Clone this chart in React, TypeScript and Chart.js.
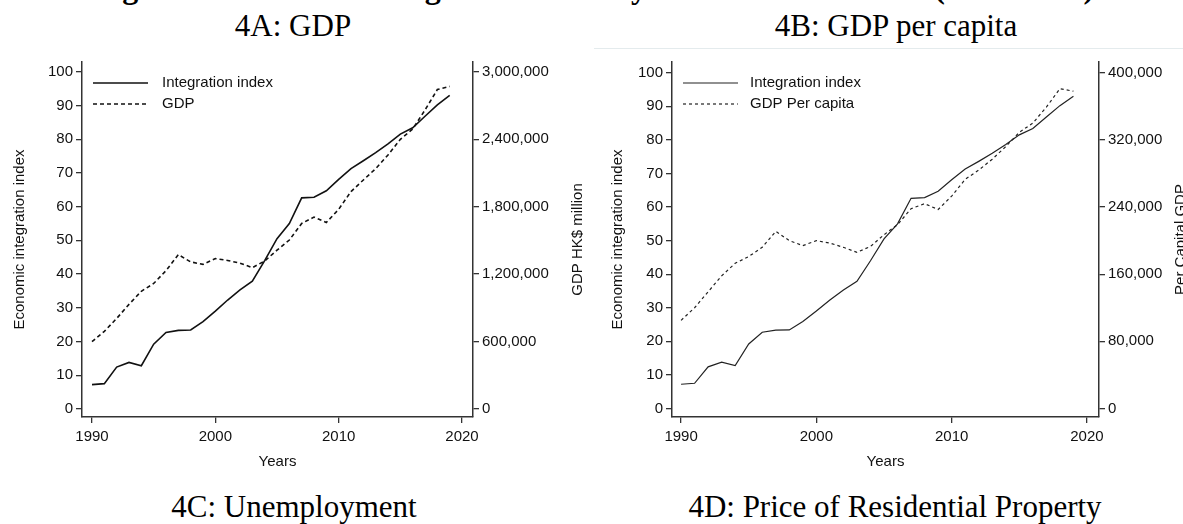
import React, { useEffect, useRef } from "react";
import { Chart, registerables } from "chart.js";

Chart.register(...registerables);

// ---- data -------------------------------------------------------------
const years = [
  1990, 1991, 1992, 1993, 1994, 1995, 1996, 1997, 1998, 1999,
  2000, 2001, 2002, 2003, 2004, 2005, 2006, 2007, 2008, 2009,
  2010, 2011, 2012, 2013, 2014, 2015, 2016, 2017, 2018, 2019,
];

// Economic integration index (left axis, both panels)
const integrationIndex = [
  7.2, 7.5, 12.4, 13.8, 12.8, 19.2, 22.7, 23.3, 23.4, 25.9,
  29.0, 32.3, 35.3, 37.9, 44.0, 50.5, 55.0, 62.6, 62.8, 64.7,
  68.1, 71.3, 73.6, 76.0, 78.6, 81.5, 83.4, 86.8, 90.2, 93.0,
];

// GDP, HK$ million (right axis, panel 4A)
const gdpMillion = [
  599000, 690000, 805000, 930000, 1047000, 1116000, 1230000, 1373000, 1308000, 1286000,
  1338000, 1321000, 1297000, 1257000, 1316000, 1412000, 1503000, 1650000, 1707000, 1659000,
  1776000, 1934000, 2037000, 2138000, 2260000, 2399000, 2490000, 2660000, 2842000, 2870000,
];

// GDP per capita, HK$ (right axis, panel 4B)
const gdpPerCapita = [
  105000, 120000, 139000, 158000, 173000, 181000, 192000, 211000, 200000, 194000,
  200000, 197000, 192000, 186000, 193000, 207000, 219000, 238000, 244000, 237000,
  253000, 273000, 284000, 297000, 312000, 329000, 340000, 359000, 381000, 378000,
];

const yearTicks = [1990, 2000, 2010, 2020];
const indexTicks = [0, 10, 20, 30, 40, 50, 60, 70, 80, 90, 100];
const gdpTicks = [0, 600000, 1200000, 1800000, 2400000, 3000000];
const perCapitaTicks = [0, 80000, 160000, 240000, 320000, 400000];

// ---- styling ----------------------------------------------------------
const SANS = '"Liberation Sans", Arial, Helvetica, sans-serif';
const SERIF = '"Liberation Serif", "Times New Roman", Times, serif';
const INK = "#111";
const AXIS = "#333";

// Legend drawn inside the plot area plus a right-hand axis title that
// reads bottom-to-top.
const panelDecor = {
  id: "panelDecor",
  afterDraw(chart: any, _args: any, opts: any) {
    const { ctx, chartArea } = chart;
    ctx.save();
    ctx.font = `15px ${SANS}`;
    ctx.fillStyle = INK;
    ctx.textBaseline = "middle";
    chart.data.datasets.forEach((ds: any, i: number) => {
      const y = chartArea.top + opts.legendTop + i * opts.legendRow;
      const x0 = chartArea.left + opts.sampleLeft;
      ctx.beginPath();
      ctx.setLineDash(ds.borderDash || []);
      ctx.lineWidth = ds.borderWidth;
      ctx.strokeStyle = ds.borderColor;
      ctx.moveTo(x0, y);
      ctx.lineTo(x0 + opts.sampleWidth, y);
      ctx.stroke();
      ctx.setLineDash([]);
      ctx.textAlign = "left";
      ctx.fillText(ds.label, chartArea.left + opts.textLeft, y);
    });
    ctx.translate(opts.rightTitleX, (chartArea.top + chartArea.bottom) / 2);
    ctx.rotate(-Math.PI / 2);
    ctx.textAlign = "center";
    ctx.fillText(opts.rightTitle, 0, 0);
    ctx.restore();
  },
};

type PanelSpec = {
  seriesLabel: string;
  values: number[];
  rightTicks: number[];
  rightFactor: number;
  yMin: number;
  yMax: number;
  xMin: number;
  xMax: number;
  padTop: number;
  leftWidth: number;
  rightWidth: number;
  xHeight: number;
  leftTitlePad: number;
  rightTitle: string;
  rightTitleX: number;
  lineWidth: number;
  lineColor: string;
  dash: number[];
  textLeft: number;
};

const tickFont = { family: SANS, size: 15 };

function buildConfig(p: PanelSpec): any {
  const pts = (vals: number[]) => years.map((x, i) => ({ x, y: vals[i] }));
  const tickGrid = {
    display: true,
    drawOnChartArea: false,
    drawTicks: true,
    tickLength: 6,
    color: AXIS,
    lineWidth: 1.3,
  };
  const border = { display: true, color: AXIS, width: 1.5 };
  return {
    type: "line",
    data: {
      datasets: [
        {
          label: "Integration index",
          data: pts(integrationIndex),
          yAxisID: "y",
          borderColor: p.lineColor,
          borderWidth: p.lineWidth,
          pointRadius: 0,
          tension: 0,
          fill: false,
        },
        {
          label: p.seriesLabel,
          data: pts(p.values),
          yAxisID: "y1",
          borderColor: p.lineColor,
          borderWidth: p.lineWidth,
          borderDash: p.dash,
          pointRadius: 0,
          tension: 0,
          fill: false,
        },
      ],
    },
    plugins: [panelDecor],
    options: {
      animation: false,
      responsive: false,
      maintainAspectRatio: false,
      events: [],
      layout: { padding: { top: p.padTop, left: 0, right: 0, bottom: 0 } },
      plugins: {
        legend: { display: false },
        tooltip: { enabled: false },
        panelDecor: {
          legendTop: 21,
          legendRow: 21,
          sampleLeft: 11,
          sampleWidth: 55,
          textLeft: p.textLeft,
          rightTitle: p.rightTitle,
          rightTitleX: p.rightTitleX,
        },
      },
      scales: {
        x: {
          type: "linear",
          position: "bottom",
          min: p.xMin,
          max: p.xMax,
          afterBuildTicks: (s: any) => {
            s.ticks = yearTicks.map((v) => ({ value: v }));
          },
          afterFit: (s: any) => {
            s.height = p.xHeight;
          },
          grid: tickGrid,
          border,
          ticks: {
            font: tickFont,
            color: INK,
            padding: 5,
            maxRotation: 0,
            autoSkip: false,
            callback: (v: any) => String(v),
          },
          title: {
            display: true,
            text: "Years",
            font: tickFont,
            color: INK,
            padding: { top: 0, bottom: 9 },
          },
        },
        y: {
          type: "linear",
          position: "left",
          min: p.yMin,
          max: p.yMax,
          afterBuildTicks: (s: any) => {
            s.ticks = indexTicks.map((v) => ({ value: v }));
          },
          afterFit: (s: any) => {
            s.width = p.leftWidth;
          },
          grid: tickGrid,
          border,
          ticks: {
            font: tickFont,
            color: INK,
            padding: 3,
            autoSkip: false,
            callback: (v: any) => String(v),
          },
          title: {
            display: true,
            text: "Economic integration index",
            font: tickFont,
            color: INK,
            padding: { top: p.leftTitlePad, bottom: 0 },
          },
        },
        y1: {
          type: "linear",
          position: "right",
          min: p.yMin * p.rightFactor,
          max: p.yMax * p.rightFactor,
          afterBuildTicks: (s: any) => {
            s.ticks = p.rightTicks.map((v) => ({ value: v }));
          },
          afterFit: (s: any) => {
            s.width = p.rightWidth;
          },
          grid: tickGrid,
          border,
          ticks: {
            font: tickFont,
            color: INK,
            padding: 3,
            autoSkip: false,
            callback: (v: any) => Number(v).toLocaleString("en-US"),
          },
        },
      },
    },
  };
}

const panelA: PanelSpec = {
  seriesLabel: "GDP",
  values: gdpMillion,
  rightTicks: gdpTicks,
  rightFactor: 30000,
  yMin: -2.4,
  yMax: 102.9,
  xMin: 1989.19,
  xMax: 2020.89,
  padTop: 9,
  leftWidth: 82,
  rightWidth: 117,
  xHeight: 63,
  leftTitlePad: 11,
  rightTitle: "GDP HK$ million",
  rightTitleX: 578,
  lineWidth: 1.6,
  lineColor: "#111",
  dash: [4, 3],
  textLeft: 80,
};

const panelB: PanelSpec = {
  seriesLabel: "GDP Per capita",
  values: gdpPerCapita,
  rightTicks: perCapitaTicks,
  rightFactor: 4000,
  yMin: -2.55,
  yMax: 103.2,
  xMin: 1989.33,
  xMax: 2020.89,
  padTop: 10,
  leftWidth: 82,
  rightWidth: 111,
  xHeight: 63,
  leftTitlePad: 19,
  rightTitle: "Per Capital GDP",
  rightTitleX: 590.5,
  lineWidth: 1.2,
  lineColor: "#222",
  dash: [3, 3],
  textLeft: 78,
};

function Heading(props: {
  text: string;
  center: number;
  baseline: number;
  size?: number;
  bold?: boolean;
}) {
  const size = props.size ?? 31;
  const baseOffset = size * 0.891 - (size * 1.107 - size) / 2;
  return (
    <div
      style={{
        position: "absolute",
        left: props.center - 700,
        width: 1400,
        top: props.baseline - baseOffset,
        textAlign: "center",
        fontFamily: SERIF,
        fontSize: size,
        lineHeight: `${size}px`,
        fontWeight: props.bold ? 700 : 400,
        color: "#000",
        whiteSpace: "nowrap",
      }}
    >
      {props.text}
    </div>
  );
}

export default function App() {
  const refA = useRef<HTMLCanvasElement | null>(null);
  const refB = useRef<HTMLCanvasElement | null>(null);

  useEffect(() => {
    const charts: Chart[] = [];
    if (refA.current) charts.push(new Chart(refA.current, buildConfig(panelA)));
    if (refB.current) charts.push(new Chart(refB.current, buildConfig(panelB)));
    return () => charts.forEach((c) => c.destroy());
  }, []);

  return (
    <div
      style={{
        position: "absolute",
        left: 0,
        top: 0,
        width: 1183,
        height: 524,
        overflow: "hidden",
        background: "#fff",
      }}
    >
      <Heading
        text="Figure 4: Economic Integration and Key Economic Variables (1990-2019)"
        center={594}
        baseline={-2}
        size={32}
        bold
      />
      <Heading text="4A: GDP" center={293} baseline={36} />
      <Heading text="4B: GDP per capita" center={896} baseline={36} />
      <div
        style={{
          position: "absolute",
          left: 594,
          top: 48,
          width: 589,
          height: 1,
          background: "#e4ebed",
        }}
      />
      <canvas
        ref={refA}
        width={590}
        height={430}
        style={{ position: "absolute", left: 0, top: 50 }}
      />
      <canvas
        ref={refB}
        width={620}
        height={430}
        style={{ position: "absolute", left: 590, top: 50 }}
      />
      <Heading text="4C: Unemployment" center={294} baseline={517} />
      <Heading text="4D: Price of Residential Property" center={895} baseline={517} />
    </div>
  );
}
